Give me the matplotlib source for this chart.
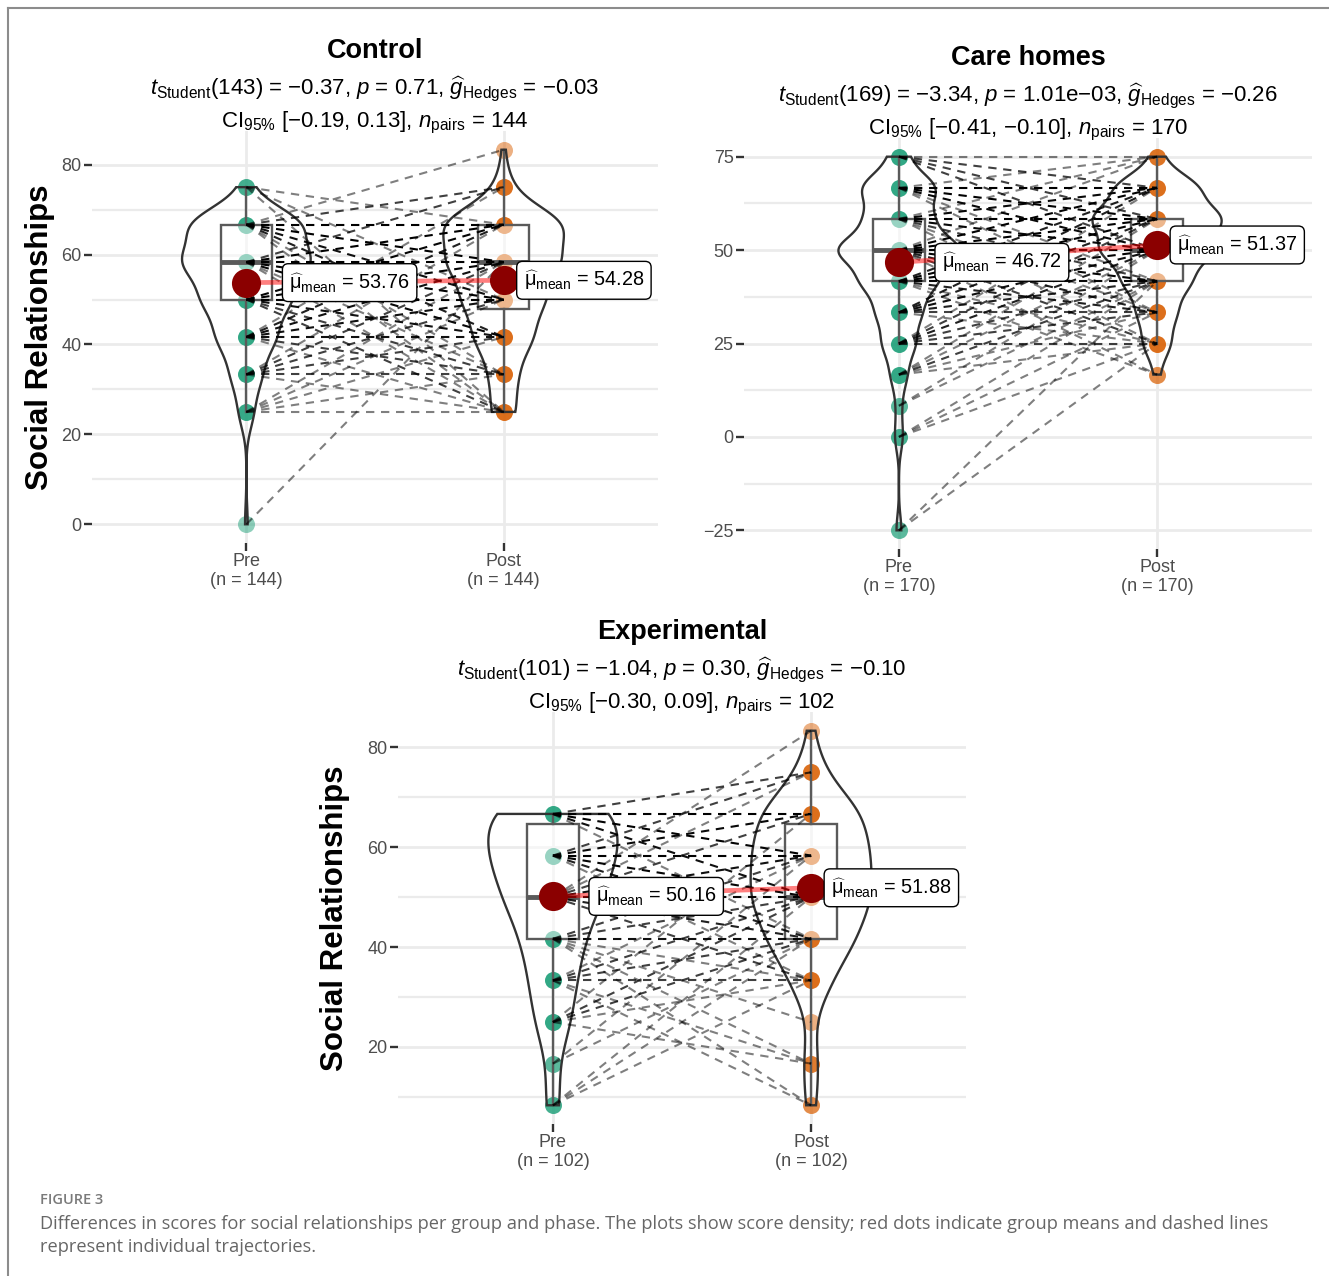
import numpy as np
import matplotlib.pyplot as plt
from matplotlib.lines import Line2D
from matplotlib.patches import Rectangle
from matplotlib.ticker import MultipleLocator

plt.rcParams['font.family'] = ['Liberation Sans', 'DejaVu Sans']
plt.rcParams['mathtext.fontset'] = 'custom'
plt.rcParams['mathtext.rm'] = 'Liberation Sans'
plt.rcParams['mathtext.it'] = 'Liberation Sans:italic'
plt.rcParams['mathtext.bf'] = 'Liberation Sans:bold'

W, H = 1329, 1276

# paired scores: pre value, post value, number of participants with that pair
control_pre = [0,
               25, 25, 25, 25, 25,
               33.33, 33.33, 33.33, 33.33, 33.33, 33.33,
               41.67, 41.67, 41.67, 41.67, 41.67, 41.67, 41.67,
               50, 50, 50, 50, 50, 50,
               58.33, 58.33, 58.33, 58.33, 58.33, 58.33, 58.33,
               66.67, 66.67, 66.67, 66.67, 66.67, 66.67, 66.67, 66.67,
               75, 75, 75]
control_post = [58.33,
                25, 33.33, 41.67, 50, 58.33,
                25, 33.33, 41.67, 50, 58.33, 66.67,
                25, 33.33, 41.67, 50, 58.33, 66.67, 75,
                25, 33.33, 41.67, 50, 58.33, 66.67,
                25, 33.33, 41.67, 50, 58.33, 66.67, 75,
                25, 33.33, 41.67, 50, 58.33, 66.67, 75, 83.33,
                25, 50, 66.67]
control_n = [1,
             1, 1, 1, 1, 1,
             1, 2, 2, 2, 2, 1,
             1, 2, 4, 4, 4, 3, 1,
             2, 2, 4, 7, 7, 6,
             1, 1, 5, 7, 12, 13, 2,
             1, 1, 3, 4, 9, 16, 2, 1,
             1, 1, 1]

care_pre = [-25, -25,
            0, 0, 0,
            8.33, 8.33,
            16.67, 16.67, 16.67, 16.67, 16.67,
            25, 25, 25, 25, 25, 25,
            33.33, 33.33, 33.33, 33.33, 33.33, 33.33,
            41.67, 41.67, 41.67, 41.67, 41.67, 41.67, 41.67,
            50, 50, 50, 50, 50, 50, 50, 50,
            58.33, 58.33, 58.33, 58.33, 58.33, 58.33, 58.33,
            66.67, 66.67, 66.67, 66.67, 66.67, 66.67,
            75, 75, 75, 75]
care_post = [25, 41.67,
             25, 33.33, 41.67,
             41.67, 50,
             25, 33.33, 41.67, 50, 58.33,
             25, 33.33, 41.67, 50, 58.33, 66.67,
             25, 33.33, 41.67, 50, 58.33, 66.67,
             16.67, 25, 33.33, 41.67, 50, 58.33, 66.67,
             16.67, 25, 33.33, 41.67, 50, 58.33, 66.67, 75,
             25, 33.33, 41.67, 50, 58.33, 66.67, 75,
             33.33, 41.67, 50, 58.33, 66.67, 75,
             50, 58.33, 66.67, 75]
care_n = [1, 1,
          1, 1, 1,
          1, 1,
          1, 1, 2, 1, 1,
          2, 2, 2, 3, 2, 1,
          1, 2, 3, 4, 3, 3,
          1, 1, 3, 5, 7, 7, 3,
          1, 2, 3, 6, 12, 13, 7, 1,
          1, 1, 2, 5, 8, 5, 1,
          1, 1, 5, 10, 9, 1,
          2, 2, 2, 1]

exp_pre = [8.33, 8.33, 8.33,
           16.67, 16.67,
           25, 25, 25, 25, 25,
           33.33, 33.33, 33.33, 33.33, 33.33, 33.33,
           41.67, 41.67, 41.67, 41.67, 41.67, 41.67, 41.67,
           50, 50, 50, 50, 50, 50, 50,
           58.33, 58.33, 58.33, 58.33, 58.33, 58.33,
           66.67, 66.67, 66.67, 66.67, 66.67]
exp_post = [33.33, 41.67, 50,
            41.67, 58.33,
            16.67, 33.33, 41.67, 50, 66.67,
            8.33, 16.67, 33.33, 41.67, 50, 58.33,
            8.33, 16.67, 25, 33.33, 41.67, 50, 58.33,
            33.33, 41.67, 50, 58.33, 66.67, 75, 83.33,
            33.33, 41.67, 50, 58.33, 66.67, 75,
            41.67, 50, 58.33, 66.67, 75]
exp_n = [1, 1, 1,
         1, 1,
         1, 1, 2, 2, 1,
         1, 1, 2, 2, 2, 1,
         1, 1, 1, 1, 4, 2, 2,
         2, 3, 6, 4, 2, 1, 1,
         1, 3, 6, 7, 5, 2,
         1, 4, 7, 12, 2]

group_names = ["Control", "Care homes", "Experimental"]
phase_names = ["Pre", "Post"]
group_means = [[53.76, 54.28], [46.72, 51.37], [50.16, 51.88]]
stats_line1 = [
    r"$t_{\mathrm{Student}}$(143) = −0.37, $p$ = 0.71, $\widehat{g}_{\mathrm{Hedges}}$ = −0.03",
    r"$t_{\mathrm{Student}}$(169) = −3.34, $p$ = 1.01e−03, $\widehat{g}_{\mathrm{Hedges}}$ = −0.26",
    r"$t_{\mathrm{Student}}$(101) = −1.04, $p$ = 0.30, $\widehat{g}_{\mathrm{Hedges}}$ = −0.10",
]
stats_line2 = [
    r"CI$_{95\%}$ [−0.19, 0.13], $n_{\mathrm{pairs}}$ = 144",
    r"CI$_{95\%}$ [−0.41, −0.10], $n_{\mathrm{pairs}}$ = 170",
    r"CI$_{95\%}$ [−0.30, 0.09], $n_{\mathrm{pairs}}$ = 102",
]
y_steps = [20, 25, 20]
caption_head = "FIGURE 3"
caption_body = ("Differences in scores for social relationships per group and phase. The plots show score density; "
                "red dots indicate group means and dashed lines\nrepresent individual trajectories.")

colors = ["#1B9E77", "#D95F02"]


def bw_nrd0(v):
    sd = np.std(v, ddof=1)
    q1, q3 = np.percentile(v, [25, 75])
    return 0.9 * min(sd, (q3 - q1) / 1.34) * len(v) ** -0.2


def kde(v, grid):
    bw = bw_nrd0(v)
    z = (grid[:, None] - v[None, :]) / bw
    return np.exp(-0.5 * z ** 2).sum(axis=1) / (len(v) * bw * np.sqrt(2 * np.pi))


def draw_panel(ax, pre, post, n, gi, ylabel):
    pre, post, n = np.array(pre, float), np.array(post, float), np.array(n)
    samples = [np.repeat(pre, n), np.repeat(post, n)]
    lo = min(pre.min(), post.min())
    hi = max(pre.max(), post.max())
    pad = (hi - lo) * 0.05
    ax.set_xlim(0.4, 2.6)
    ax.set_ylim(lo - pad, hi + pad)

    # points, alpha stacking with the number of participants on a level
    for k, s in enumerate(samples):
        vals, cnt = np.unique(s, return_counts=True)
        for v, c in zip(vals, cnt):
            ax.scatter(k + 1, v, s=150, color=colors[k], alpha=0.9 * (1 - 0.45 ** c),
                       lw=0, zorder=2)

    # boxes
    for k, s in enumerate(samples):
        q1, med, q3 = np.percentile(s, [25, 50, 75])
        iqr = q3 - q1
        wlo = s[s >= q1 - 1.5 * iqr].min()
        whi = s[s <= q3 + 1.5 * iqr].max()
        x = k + 1
        ax.add_patch(Rectangle((x - 0.1, q1), 0.2, q3 - q1, fc=(1, 1, 1, 0.5),
                               ec="#5a5a5a", lw=1.7, zorder=3))
        ax.plot([x - 0.1, x + 0.1], [med, med], color="#5a5a5a", lw=3.5, zorder=3,
                solid_capstyle="butt")
        ax.plot([x, x], [wlo, q1], color="#5a5a5a", lw=1.7, zorder=3)
        ax.plot([x, x], [q3, whi], color="#5a5a5a", lw=1.7, zorder=3)

    # violins (trimmed, area scaled)
    dens = []
    for s in samples:
        grid = np.linspace(s.min(), s.max(), 512)
        dens.append((grid, kde(s, grid)))
    dmax = max(d.max() for _, d in dens)
    for k, (grid, d) in enumerate(dens):
        w = 0.25 * d / dmax
        xs = np.concatenate([k + 1 - w, (k + 1 + w)[::-1]])
        ys = np.concatenate([grid, grid[::-1]])
        ax.fill(xs, ys, fc="none", ec="#333333", lw=1.7, zorder=3)

    # individual trajectories
    for a, b, c in zip(pre, post, n):
        ax.plot([1, 2], [a, b], color="black", alpha=1 - 0.5 ** c, lw=1.5,
                ls=(0, (4, 3.2)), zorder=4)

    # means
    m = group_means[gi]
    ax.plot([1, 2], m, color="red", alpha=0.5, lw=3.4, zorder=5)
    ax.scatter([1, 2], m, s=440, color="#8B0000", zorder=6, lw=0)
    for k, off in zip(range(2), [43, 20]):
        ax.annotate(r"$\widehat{\mathrm{\mu}}_{\mathrm{mean}}$" + " = %.2f" % m[k],
                    xy=(k + 1, m[k]), xytext=(off, 0), textcoords="offset pixels",
                    ha="left", va="center", fontsize=14.3, zorder=7,
                    bbox=dict(boxstyle="round,pad=0.35,rounding_size=0.3",
                              fc="white", ec="black", lw=1))

    # axes styling
    ax.set_xticks([1, 2])
    ax.set_xticklabels(["%s\n(n = %d)" % (p, len(s)) for p, s in zip(phase_names, samples)],
                       linespacing=1.15)
    ax.yaxis.set_major_locator(MultipleLocator(y_steps[gi]))
    ax.yaxis.set_minor_locator(MultipleLocator(y_steps[gi] / 2))
    ax.tick_params(axis="both", which="major", length=5.5, width=1.7, color="#333333",
                   labelcolor="#4d4d4d", labelsize=13, pad=2)
    ax.tick_params(axis="y", which="minor", length=0)
    ax.grid(which="major", axis="both", color="#ebebeb", lw=2)
    ax.grid(which="minor", axis="y", color="#ebebeb", lw=1.6)
    ax.set_axisbelow(True)
    for sp in ax.spines.values():
        sp.set_visible(False)

    if ylabel:
        ax.set_ylabel("Social Relationships", fontsize=22.5, fontweight="bold", color="black")

    ax.annotate(group_names[gi], xy=(0.5, 1), xycoords="axes fraction", xytext=(0, 80),
                textcoords="offset pixels", ha="center", va="center",
                fontsize=19.5, fontweight="bold")
    ax.annotate(stats_line1[gi], xy=(0.5, 1), xycoords="axes fraction", xytext=(0, 42),
                textcoords="offset pixels", ha="center", va="center", fontsize=16)
    ax.annotate(stats_line2[gi], xy=(0.5, 1), xycoords="axes fraction", xytext=(0, 8),
                textcoords="offset pixels", ha="center", va="center", fontsize=16)


def place(fig, left, right, top, bottom):
    return fig.add_axes([left / W, 1 - bottom / H, (right - left) / W, (bottom - top) / H])


fig = plt.figure(figsize=(W / 100, H / 100), dpi=100)

ax1 = place(fig, 92, 658, 131, 543)
draw_panel(ax1, control_pre, control_post, control_n, 0, True)
ax1.yaxis.set_label_coords(-0.092, 0.5)
ax1.yaxis.label.set_va("center")

ax2 = place(fig, 744, 1312, 138, 549)
draw_panel(ax2, care_pre, care_post, care_n, 1, False)

ax3 = place(fig, 398, 966, 712, 1124)
draw_panel(ax3, exp_pre, exp_post, exp_n, 2, True)
ax3.yaxis.set_label_coords(-0.111, 0.5)
ax3.yaxis.label.set_va("center")

# frame of the figure page
fig.add_artist(Line2D([8 / W, 1], [1 - 8 / H, 1 - 8 / H], color="#8c8c8c", lw=1.5))
fig.add_artist(Line2D([8 / W, 8 / W], [0, 1 - 8 / H], color="#8c8c8c", lw=1.5))

fig.text(40 / W, 1 - 1200 / H, caption_head, ha="left", va="center", family="Open Sans",
         fontweight="semibold", fontsize=10.5, color="#7a7a7a")
fig.text(40 / W, 1 - 1235.5 / H, caption_body, ha="left", va="center", family="Open Sans",
         fontsize=13.15, color="#666666", linespacing=1.3)

fig.savefig("out.png", dpi=100)
